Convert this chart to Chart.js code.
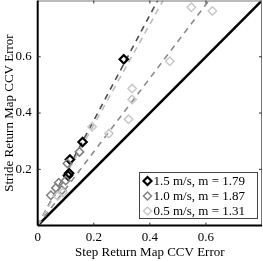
<!DOCTYPE html>
<html>
<head>
<meta charset="utf-8">
<script src="https://cdn.jsdelivr.net/npm/chart.js@4/dist/chart.umd.min.js"></script>
<style>
  html, body { margin: 0; padding: 0; background: #fff; }
  #wrap { width: 263px; height: 261px; }
</style>
</head>
<body>
<div id="wrap"><canvas id="c"></canvas></div>
<script>
const seriesNames = ["1.5 m/s", "1.0 m/s", "0.5 m/s"];
const slopes = [1.79, 1.87, 1.31];
const markerColors = ["#000000", "#808080", "#c8c8c8"];
const fitColors = ["#bdbdbd", "#4d4d4d", "#8c8c8c"];

// step error (x) / stride error (y) per speed
const fastX = [0.307, 0.160, 0.115, 0.112, 0.108];
const fastY = [0.591, 0.297, 0.235, 0.186, 0.178];
const midX = [0.149, 0.106, 0.075, 0.065, 0.086, 0.047, 0.100];
const midY = [0.262, 0.221, 0.152, 0.134, 0.126, 0.108, 0.160];
const slowX = [0.548, 0.623, 0.471, 0.337, 0.337, 0.324, 0.194, 0.254, 0.071, 0.090];
const slowY = [0.776, 0.763, 0.584, 0.487, 0.448, 0.378, 0.351, 0.327, 0.105, 0.118];

const axisMax = 0.8;
const tickStep = 0.2;

const pts = (xs, ys) => xs.map((x, i) => ({ x, y: ys[i] }));
const fitLine = m => [{ x: 0, y: 0 }, { x: axisMax / m, y: axisMax }];

const serif = "'Liberation Serif', 'DejaVu Serif', serif";

const pointSets = [pts(fastX, fastY), pts(midX, midY), pts(slowX, slowY)];

const datasets = [];
datasets.push({
  type: "line", data: [{ x: 0, y: 0 }, { x: axisMax, y: axisMax }],
  borderColor: "#000", borderWidth: 2.5, pointRadius: 0, order: 5
});
slopes.forEach((m, i) => {
  datasets.push({
    type: "line", data: fitLine(m),
    borderColor: fitColors[i], borderWidth: 1.6, borderDash: [6, 5],
    pointRadius: 0, order: 4
  });
});
[2, 1, 0].forEach(i => {
  datasets.push({
    type: "scatter", data: pointSets[i],
    pointStyle: "rectRot", pointRadius: 4.2,
    pointBorderWidth: i === 0 ? 2.2 : 1.5,
    pointBorderColor: markerColors[i], pointBackgroundColor: "rgba(0,0,0,0)",
    order: 1
  });
});

const frame = {
  id: "frame",
  afterDraw(chart) {
    const { ctx, chartArea: a, scales } = chart;
    ctx.save();
    // box
    ctx.strokeStyle = "#777";
    ctx.lineWidth = 1;
    ctx.beginPath();
    ctx.moveTo(a.left, a.top + 0.5); ctx.lineTo(a.right, a.top + 0.5);
    ctx.moveTo(a.right - 0.5, a.top); ctx.lineTo(a.right - 0.5, a.bottom);
    ctx.stroke();
    ctx.strokeStyle = "#000";
    ctx.lineWidth = 2;
    ctx.beginPath();
    ctx.moveTo(a.left, a.bottom); ctx.lineTo(a.right, a.bottom);
    ctx.moveTo(a.left, a.top); ctx.lineTo(a.left, a.bottom);
    ctx.stroke();
    // inward ticks
    ctx.lineWidth = 1;
    ctx.strokeStyle = "#333";
    for (let v = tickStep; v < axisMax - 1e-6; v += tickStep) {
      const x = scales.x.getPixelForValue(v);
      const y = scales.y.getPixelForValue(v);
      ctx.beginPath();
      ctx.moveTo(x, a.bottom); ctx.lineTo(x, a.bottom - 3);
      ctx.moveTo(x, a.top); ctx.lineTo(x, a.top + 3);
      ctx.moveTo(a.left, y); ctx.lineTo(a.left + 3, y);
      ctx.moveTo(a.right, y); ctx.lineTo(a.right - 3, y);
      ctx.stroke();
    }
    // legend box
    const bx = 139.5, by = 172.5, bw = 118, bh = 46, rowH = 15;
    ctx.fillStyle = "#fff";
    ctx.fillRect(bx, by, bw, bh);
    ctx.strokeStyle = "#444";
    ctx.strokeRect(bx, by, bw, bh);
    ctx.font = "13px " + serif;
    ctx.textBaseline = "middle";
    ctx.fillStyle = "#000";
    seriesNames.forEach((name, i) => {
      const cy = by + 8.5 + i * rowH;
      const cx = bx + 8;
      ctx.beginPath();
      ctx.moveTo(cx, cy - 4); ctx.lineTo(cx + 4, cy); ctx.lineTo(cx, cy + 4); ctx.lineTo(cx - 4, cy);
      ctx.closePath();
      ctx.lineWidth = i === 0 ? 2.2 : 1.5;
      ctx.strokeStyle = markerColors[i];
      ctx.stroke();
      ctx.fillText(name + ", m = " + slopes[i].toFixed(2), bx + 14, cy + 0.5);
    });
    ctx.restore();
  }
};

const tickText = (v, hideZero) => {
  if (Math.abs(v - axisMax) < 1e-6) return "";
  if (hideZero && Math.abs(v) < 1e-6) return "";
  return Math.abs(v) < 1e-6 ? "0" : v.toFixed(1);
};

// invisible tick marks just to space the labels off the axis
const spacer = len => ({
  display: true, drawOnChartArea: false, drawTicks: true,
  tickLength: len, color: "rgba(0,0,0,0)"
});

new Chart(document.getElementById("c"), {
  data: { datasets },
  options: {
    responsive: true,
    maintainAspectRatio: false,
    animation: false,
    layout: { autoPadding: false, padding: { top: 0.5, right: 1, left: 0, bottom: 0 } },
    plugins: { legend: { display: false }, tooltip: { enabled: false } },
    scales: {
      x: {
        type: "linear", min: 0, max: axisMax,
        grid: spacer(4),
        border: { display: false },
        ticks: {
          stepSize: tickStep, padding: 0, color: "#000",
          font: { family: serif, size: 13 },
          callback: v => tickText(v, false)
        },
        title: {
          display: true, text: "Step Return Map CCV Error", color: "#000",
          font: { family: serif, size: 13 }, padding: { top: 0, bottom: 1 }
        },
        afterFit: s => { s.height = 35.4; s.paddingLeft = 0; s.paddingRight = 0; }
      },
      y: {
        type: "linear", min: 0, max: axisMax,
        grid: spacer(6),
        border: { display: false },
        ticks: {
          stepSize: tickStep, padding: 0, color: "#000",
          font: { family: serif, size: 13 },
          callback: v => tickText(v, true)
        },
        title: {
          display: true, text: "Stride Return Map CCV Error", color: "#000",
          font: { family: serif, size: 13 }, padding: { top: 2, bottom: 0 }
        },
        afterFit: s => { s.width = 37.7; s.paddingTop = 0; s.paddingBottom = 0; }
      }
    }
  },
  plugins: [frame]
});
</script>
</body>
</html>
